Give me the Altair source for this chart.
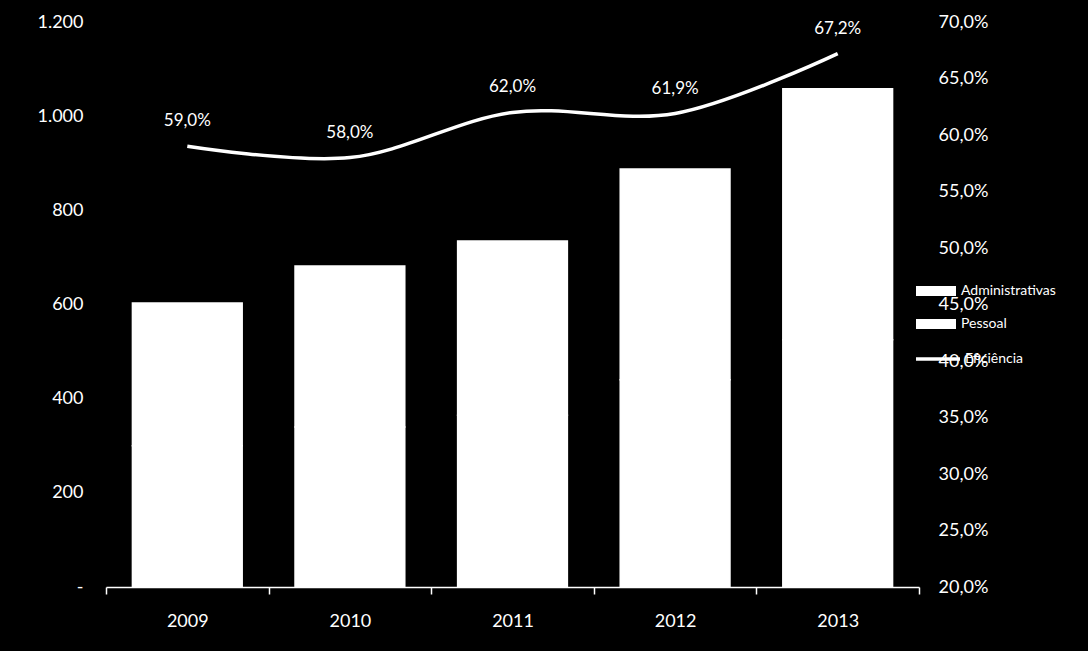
import altair as alt
import pandas as pd

years = ["2009", "2010", "2011", "2012", "2013"]
administrativas = [303, 342, 370, 448, 533]
pessoal = [300, 340, 365, 440, 525]
eficiencia = [59.0, 58.0, 62.0, 61.9, 67.2]
bar_series = ["Administrativas", "Pessoal"]
line_series = ["Eficiência"]
left_ticks = [0, 200, 400, 600, 800, 1000, 1200]
right_ticks = [20, 25, 30, 35, 40, 45, 50, 55, 60, 65, 70]

bars_df = pd.DataFrame(
    [{"ano": y, "serie": "Pessoal", "valor": p, "ordem": 0} for y, p in zip(years, pessoal)]
    + [{"ano": y, "serie": "Administrativas", "valor": a, "ordem": 1} for y, a in zip(years, administrativas)]
)
line_df = pd.DataFrame({"ano": years, "ef": eficiencia, "serie": line_series * len(years)})

FONT = "Lato"

x_enc = alt.X(
    "ano:N",
    sort=years,
    scale=alt.Scale(paddingInner=0, paddingOuter=0),
    axis=alt.Axis(
        title=None, labelAngle=0, domainColor="white", domainWidth=1.5,
        tickColor="white", tickSize=7, tickWidth=1.5, tickBand="extent",
        labelPadding=18,
    ),
)

bars = alt.Chart(bars_df).mark_bar(
    fill="white", stroke="white", strokeWidth=1.5, strokeOpacity=1,
    width=alt.RelativeBandSize(0.675)
).encode(
    x=x_enc,
    y=alt.Y(
        "valor:Q", stack="zero",
        scale=alt.Scale(domain=[0, 1200], nice=False),
        axis=alt.Axis(
            title=None, values=left_ticks, domain=False, ticks=False, labelPadding=23,
            labelExpr="datum.value == 0 ? '-\u2007' : replace(format(datum.value, ',d'), ',', '.')",
        ),
    ),
    color=alt.Color(
        "serie:N",
        scale=alt.Scale(domain=bar_series, range=["white", "white"]),
        legend=alt.Legend(
            title=None, orient="none", legendX=820, legendY=259, padding=0,
            symbolType="M-2,-0.5H2V0.5H-2Z", symbolSize=400, symbolStrokeWidth=0,
            labelColor="white", labelFont=FONT, labelFontSize=14, labelOffset=15,
            rowPadding=16,
        ),
    ),
    order=alt.Order("ordem:Q"),
)

y_right = alt.Y(
    "ef:Q",
    scale=alt.Scale(domain=[20, 70], nice=False),
    axis=alt.Axis(
        title=None, orient="right", values=right_ticks, domain=False, ticks=False,
        labelPadding=19,
        labelExpr="replace(format(datum.value, '.1f'), '.', ',') + '%'",
    ),
)

line = alt.Chart(line_df).mark_line(strokeWidth=3.5, interpolate="catmull-rom").encode(
    x=alt.X("ano:N", sort=years),
    y=y_right,
    stroke=alt.Stroke(
        "serie:N",
        scale=alt.Scale(domain=line_series, range=["white"]),
        legend=alt.Legend(
            title=None, orient="none", legendX=820, legendY=325, padding=0,
            symbolType="M-2.2,0H2.2", symbolSize=400, symbolStrokeWidth=3.5,
            labelColor="white", labelFont=FONT, labelFontSize=14, labelOffset=15,
        ),
    ),
)

labels = alt.Chart(line_df).mark_text(
    color="white", font=FONT, fontSize=17, dy=-25, baseline="middle"
).encode(
    x=alt.X("ano:N", sort=years),
    y=alt.Y("ef:Q", scale=alt.Scale(domain=[20, 70], nice=False)),
    text=alt.Text("label:N"),
).transform_calculate(
    label="replace(format(datum.ef, '.1f'), '.', ',') + '%'"
)

chart = alt.layer(bars, alt.layer(line, labels)).resolve_scale(
    y="independent", color="independent"
).properties(
    width=813, height=565,
    autosize=alt.AutoSizeParams(type="none"),
    padding={"left": 98, "top": 14, "right": 161, "bottom": 56},
    background="black",
).configure_view(stroke=None).configure_axis(
    labelFont=FONT, labelColor="white", labelFontSize=18, grid=False
)

chart.save("out.html", embed_options={"renderer": "svg", "actions": False,
                                      "defaultStyle": "body { background: black; }"})
